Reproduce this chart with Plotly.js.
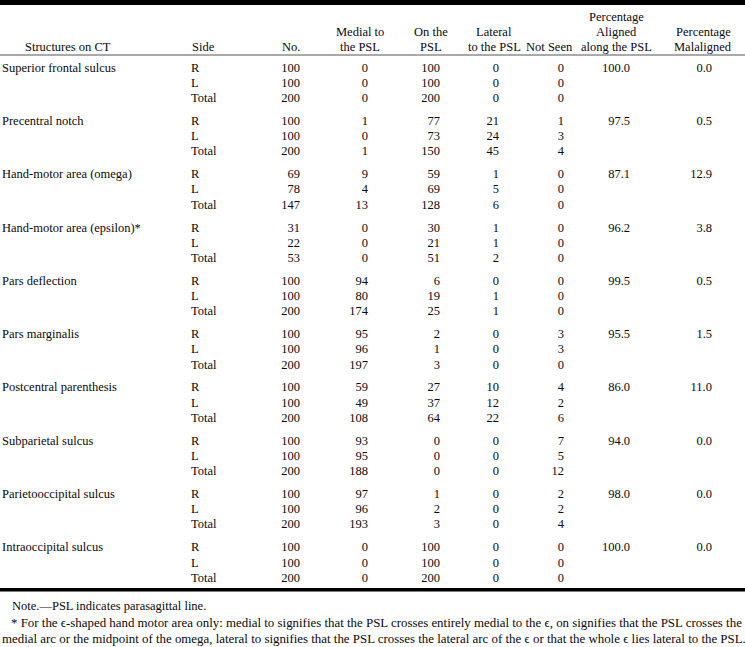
<!DOCTYPE html>
<html>
<head>
<meta charset="utf-8">
<script src="https://cdn.plot.ly/plotly-3.0.1.min.js"></script>
<style>html,body{margin:0;padding:0;background:#fff;}</style>
</head>
<body>
<div id="chart" style="width:745px;height:647px;"></div>
<script>
// ---------- DATA ----------
const structures = ["Superior frontal sulcus", "Precentral notch", "Hand-motor area (omega)",
  "Hand-motor area (epsilon)*", "Pars deflection", "Pars marginalis", "Postcentral parenthesis",
  "Subparietal sulcus", "Parietooccipital sulcus", "Intraoccipital sulcus"];
const sides = ["R", "L", "Total"];
const countNo = [[100,100,200],[100,100,200],[69,78,147],[31,22,53],[100,100,200],
  [100,100,200],[100,100,200],[100,100,200],[100,100,200],[100,100,200]];
const medial = [[0,0,0],[1,0,1],[9,4,13],[0,0,0],[94,80,174],[95,96,197],[59,49,108],
  [93,95,188],[97,96,193],[0,0,0]];
const onPSL = [[100,100,200],[77,73,150],[59,69,128],[30,21,51],[6,19,25],[2,1,3],[27,37,64],
  [0,0,0],[1,2,3],[100,100,200]];
const lateral = [[0,0,0],[21,24,45],[1,5,6],[1,1,2],[0,1,1],[0,0,0],[10,12,22],[0,0,0],[0,0,0],[0,0,0]];
const notSeen = [[0,0,0],[1,3,4],[0,0,0],[0,0,0],[0,0,0],[3,3,0],[4,2,6],[7,5,12],[2,2,4],[0,0,0]];
const pctAligned = ["100.0","97.5","87.1","96.2","99.5","95.5","86.0","94.0","98.0","100.0"];
const pctMalaligned = ["0.0","0.5","12.9","3.8","0.5","1.5","11.0","0.0","0.0","0.0"];
const headers = [["Structures on CT"], ["Side"], ["No."], ["Medial to", "the PSL"], ["On the", "PSL"],
  ["Lateral", "to the PSL"], ["Not Seen"], ["Percentage", "Aligned", "along the PSL"], ["Percentage", "Malaligned"]];
const noteText = "Note.—PSL indicates parasagittal line.";
const footLine1 = "* For the ϵ-shaped hand motor area only: medial to signifies that the PSL crosses entirely medial to the ϵ, on signifies that the PSL crosses the";
const footLine2 = "medial arc or the midpoint of the omega, lateral to signifies that the PSL crosses the lateral arc of the ϵ or that the whole ϵ lies lateral to the PSL.";

// ---------- LAYOUT PARAMS ----------
const FONT = "Liberation Serif, Times New Roman, serif";
const FS = 12.5;
const TXT = "#0a0a0a";
const firstRowY = 68.5, groupPitch = 53.3, rowPitch = 15.2;
const colX = {struct: 2, side: 191, no: 300, medial: 368, on: 440, lat: 499, ns: 564, pa: 630, pm: 712};
const headerCenters = [68, 203, 291, 360, 431, 494, 549, 616, 703];
const headerBottomY = 46.5, headerLine = 15;

function rowY(g, r) { return firstRowY + g * groupPitch + r * rowPitch; }

const traces = [];
function addTextTrace(xpos, ys, texts, pos) {
  traces.push({
    type: "scatter", mode: "text", x: ys.map(() => xpos), y: ys, text: texts,
    textposition: pos, textfont: {family: FONT, size: FS, color: TXT},
    hoverinfo: "skip", showlegend: false, cliponaxis: false
  });
}

// Structures
addTextTrace(colX.struct, structures.map((s, g) => rowY(g, 0)), structures, "middle right");
// Sides
{
  const ys = [], ts = [];
  structures.forEach((s, g) => sides.forEach((sd, r) => { ys.push(rowY(g, r)); ts.push(sd); }));
  addTextTrace(colX.side, ys, ts, "middle right");
}
function addMatrix(xpos, mat) {
  const ys = [], ts = [];
  mat.forEach((grp, g) => grp.forEach((v, r) => { ys.push(rowY(g, r)); ts.push(String(v)); }));
  addTextTrace(xpos, ys, ts, "middle left");
}
addMatrix(colX.no, countNo);
addMatrix(colX.medial, medial);
addMatrix(colX.on, onPSL);
addMatrix(colX.lat, lateral);
addMatrix(colX.ns, notSeen);
addTextTrace(colX.pa, pctAligned.map((v, g) => rowY(g, 0)), pctAligned, "middle left");
addTextTrace(colX.pm, pctMalaligned.map((v, g) => rowY(g, 0)), pctMalaligned, "middle left");

// Header annotations (one per line, bottom-aligned)
const annotations = [];
headers.forEach((lines, i) => {
  lines.forEach((ln, k) => {
    annotations.push({
      x: headerCenters[i], y: headerBottomY - (lines.length - 1 - k) * headerLine, xref: "x", yref: "y",
      text: ln, showarrow: false, xanchor: "center", yanchor: "middle", align: "center",
      font: {family: FONT, size: FS, color: TXT}
    });
  });
});
annotations.push({x: 10, y: 606, xref: "x", yref: "y", text: noteText, showarrow: false,
  xanchor: "left", yanchor: "middle", font: {family: FONT, size: FS, color: TXT}});
annotations.push({x: 9, y: 623, xref: "x", yref: "y", text: footLine1, showarrow: false,
  xanchor: "left", yanchor: "middle", font: {family: FONT, size: 12.9, color: TXT}});
annotations.push({x: 0, y: 639, xref: "x", yref: "y", text: footLine2, showarrow: false,
  xanchor: "left", yanchor: "middle", font: {family: FONT, size: 12.9, color: TXT}});

const shapes = [
  {type: "rect", xref: "paper", yref: "y", x0: 0, x1: 1, y0: 0, y1: 5, fillcolor: "#000", line: {width: 0}},
  {type: "line", xref: "paper", yref: "y", x0: 0, x1: 1, y0: 55, y1: 55, line: {color: "#555", width: 1}},
  {type: "rect", xref: "paper", yref: "y", x0: 0, x1: 1, y0: 588, y1: 591.5, fillcolor: "#000", line: {width: 0}}
];

const layout = {
  width: 745, height: 647, margin: {l: 0, r: 0, t: 0, b: 0},
  paper_bgcolor: "#fff", plot_bgcolor: "#fff",
  xaxis: {range: [0, 745], visible: false, fixedrange: true},
  yaxis: {range: [647, 0], visible: false, fixedrange: true},
  showlegend: false, annotations: annotations, shapes: shapes
};
Plotly.newPlot("chart", traces, layout, {displayModeBar: false, staticPlot: true});
</script>
</body>
</html>
